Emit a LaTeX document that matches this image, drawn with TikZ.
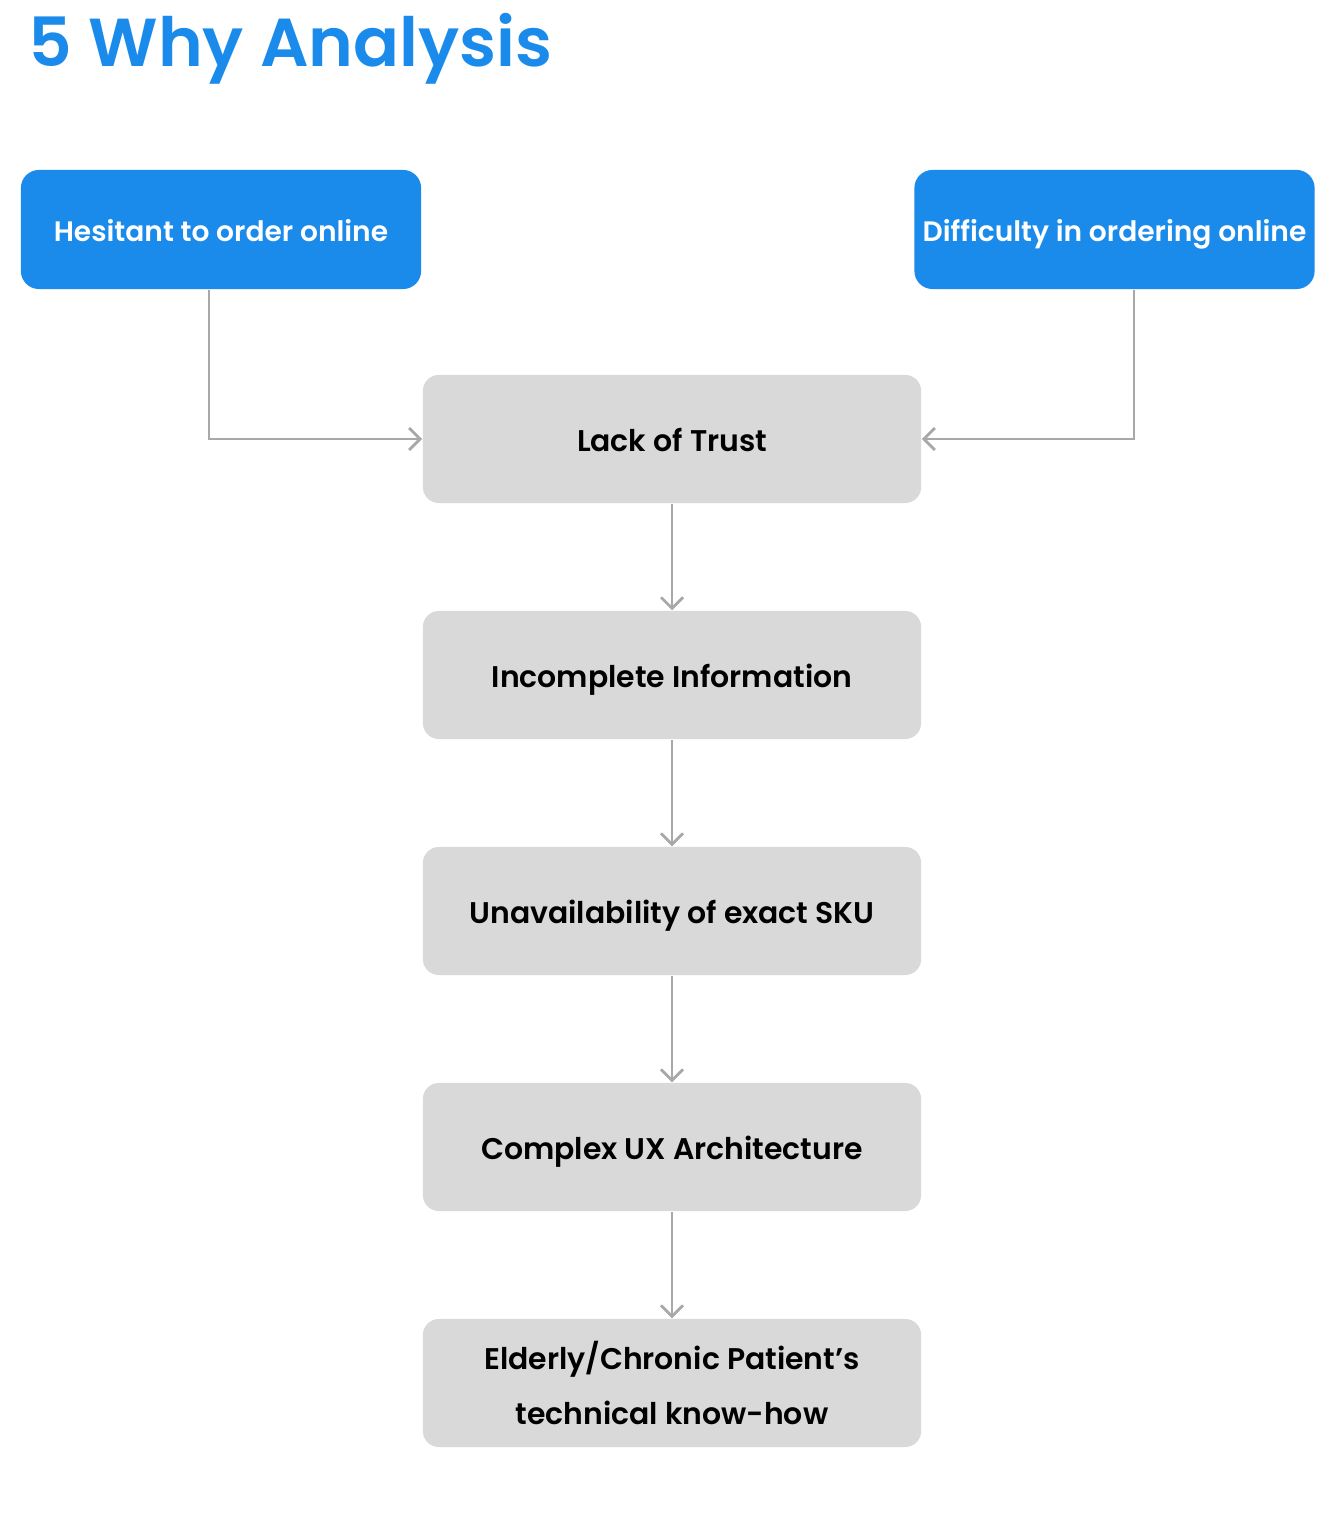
\documentclass[tikz,border=0pt]{standalone}
\usepackage{fontspec}
\setmainfont{Poppins}
\newfontfamily\boxfont{Poppins}[UprightFont={* SemiBold}]
\newfontfamily\titlefont{Poppins}[UprightFont={* SemiBold}]
\usetikzlibrary{arrows.meta}

\definecolor{whyblue}{HTML}{1A8BEA}
\definecolor{whygray}{HTML}{D9D9D9}
\definecolor{whyline}{HTML}{A8A8A8}

\begin{document}
\begin{tikzpicture}[
    x=0.01cm, y=-0.01cm,
    symptom/.style={
      fill=whyblue,
      rounded corners=0.18cm,
      inner sep=0pt,
      minimum width=4cm,
      minimum height=1.19cm,
      text height=0.7em,
      text depth=0em,
      text=white,
      font=\boxfont\fontsize{8}{11}\selectfont
    },
    cause/.style={
      fill=whygray,
      rounded corners=0.16cm,
      inner sep=0pt,
      minimum width=4.98cm,
      minimum height=1.28cm,
      text=black,
      align=center,
      font=\boxfont\fontsize{8.5}{15.6}\selectfont
    },
    oneline/.style={
      text height=0.7em,
      text depth=0em
    },
    link/.style={
      draw=whyline,
      line width=0.8pt,
      -{Straight Barb[length=0.11cm, width=0.22cm, line width=0.8pt]}
    }
  ]
  \useasboundingbox (0,0) rectangle (1336,1525);

  % Title
  \node[anchor=base west, inner sep=0pt, text=whyblue,
        font=\titlefont\fontsize{19.3}{24}\selectfont] (title) at (28,67) {5 Why Analysis};

  % Top level symptoms
  \node[symptom] (hesitant) at (221,229.5) {Hesitant to order online};
  \node[symptom] (difficulty) at (1114.5,229.5) {Difficulty in ordering online};

  % Chain of whys
  \node[cause, oneline] (trust) at (672,439) {Lack of Trust};
  \node[cause, oneline] (info) at (672,675) {Incomplete Information};
  \node[cause, oneline] (sku) at (672,911) {Unavailability of exact SKU};
  \node[cause, oneline] (ux) at (672,1147) {Complex UX Architecture};
  \node[cause] (elderly) at (672,1383) {Elderly/Chronic Patient’s\\technical know-how};

  % Connectors
  \draw[link] ([xshift=-0.12cm]hesitant.south) |- (trust.west);
  \draw[link] ([xshift=0.195cm]difficulty.south) |- (trust.east);
  \draw[link] (trust) -- (info);
  \draw[link] (info) -- (sku);
  \draw[link] (sku) -- (ux);
  \draw[link] (ux) -- (elderly);

\end{tikzpicture}
\end{document}
